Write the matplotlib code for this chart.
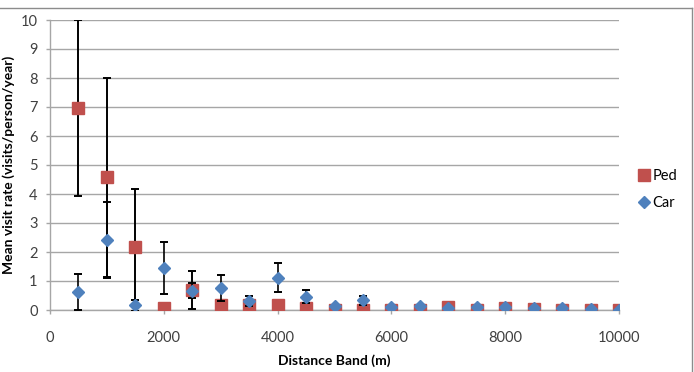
import matplotlib
matplotlib.use("Agg")
import matplotlib.pyplot as plt
from matplotlib.lines import Line2D

distance = [500, 1000, 1500, 2000, 2500, 3000, 3500, 4000, 4500, 5000,
            5500, 6000, 6500, 7000, 7500, 8000, 8500, 9000, 9500, 10000]
ped = [6.97, 4.57, 2.16, 0.06, 0.69, 0.18, 0.17, 0.18, 0.08, 0.0,
       0.01, 0.0, 0.0, 0.11, 0.0, 0.06, 0.02, 0.0, 0.0, 0.0]
ped_err = [3.03, 3.43, 2.0, 0.0, 0.67, 0.0, 0.0, 0.0, 0.0, 0.0,
           0.0, 0.0, 0.0, 0.0, 0.0, 0.0, 0.0, 0.0, 0.0, 0.0]
car = [0.63, 2.42, 0.16, 1.44, 0.66, 0.76, 0.32, 1.11, 0.46, 0.14,
       0.33, 0.11, 0.13, 0.08, 0.12, 0.09, 0.07, 0.06, 0.02, 0.01]
car_err = [0.62, 1.3, 0.18, 0.89, 0.26, 0.46, 0.18, 0.5, 0.23, 0.0,
           0.15, 0.0, 0.0, 0.0, 0.0, 0.0, 0.0, 0.0, 0.0, 0.0]
x_ticks = [0, 2000, 4000, 6000, 8000, 10000]
y_ticks = list(range(0, 11))

plt.rcParams['font.family'] = ['Lato', 'DejaVu Sans']

fig = plt.figure(figsize=(6.94, 3.72), dpi=100)
W, H = 694, 372
ax = fig.add_axes([50 / W, 1 - 310 / H, (619 - 50) / W, (310 - 20) / H])

# chart frame (top and right edges visible)
frame_top = 1 - 7.5 / H
frame_right = 691.5 / W
fig.add_artist(Line2D([0, frame_right], [frame_top, frame_top],
                      transform=fig.transFigure, color='#8c8c8c', linewidth=1.0))
fig.add_artist(Line2D([frame_right, frame_right], [0, frame_top],
                      transform=fig.transFigure, color='#8c8c8c', linewidth=1.0))

ped_color = '#C0504D'
car_color = '#4F81BD'

ax.errorbar(distance, ped, yerr=ped_err, fmt='none', ecolor='black',
            elinewidth=1.4, capsize=2.6, capthick=1.4, zorder=3)
ax.plot(distance, ped, linestyle='none', marker='s', markersize=8.5,
        color=ped_color, label='Ped', zorder=4)
ax.errorbar(distance, car, yerr=car_err, fmt='none', ecolor='black',
            elinewidth=1.2, capsize=2.6, capthick=1.4, zorder=5)
ax.plot(distance, car, linestyle='none', marker='D', markersize=6.5,
        color=car_color, label='Car', zorder=6)

ax.set_xlim(0, 10000)
ax.set_ylim(0, 10)
ax.set_xticks(x_ticks)
ax.set_yticks(y_ticks)
ax.grid(axis='y', color='#a6a6a6', linewidth=1.0)
ax.set_axisbelow(True)
for s in ['top', 'right']:
    ax.spines[s].set_visible(False)
for s in ['left', 'bottom']:
    ax.spines[s].set_color('#a6a6a6')
    ax.spines[s].set_linewidth(1.0)
ax.tick_params(axis='both', colors='#a6a6a6', labelcolor='#404040',
               labelsize=10.5, length=3, width=1.0)
ax.tick_params(axis='x', pad=12)
ax.tick_params(axis='y', pad=6)

ax.set_xlabel('Distance Band (m)', fontsize=10, fontweight='bold', labelpad=7)
ax.set_ylabel('Mean visit rate (visits/person/year)', fontsize=10,
              fontweight='bold')
ax.yaxis.set_label_coords(-35 / (619 - 50), 0.5)

ax.legend(loc='center left', bbox_to_anchor=(1.02, 0.415), frameon=False,
          fontsize=10.5, handletextpad=0.1, handlelength=1.0,
          labelspacing=0.85, borderaxespad=0)

fig.savefig('out.png', dpi=100)
